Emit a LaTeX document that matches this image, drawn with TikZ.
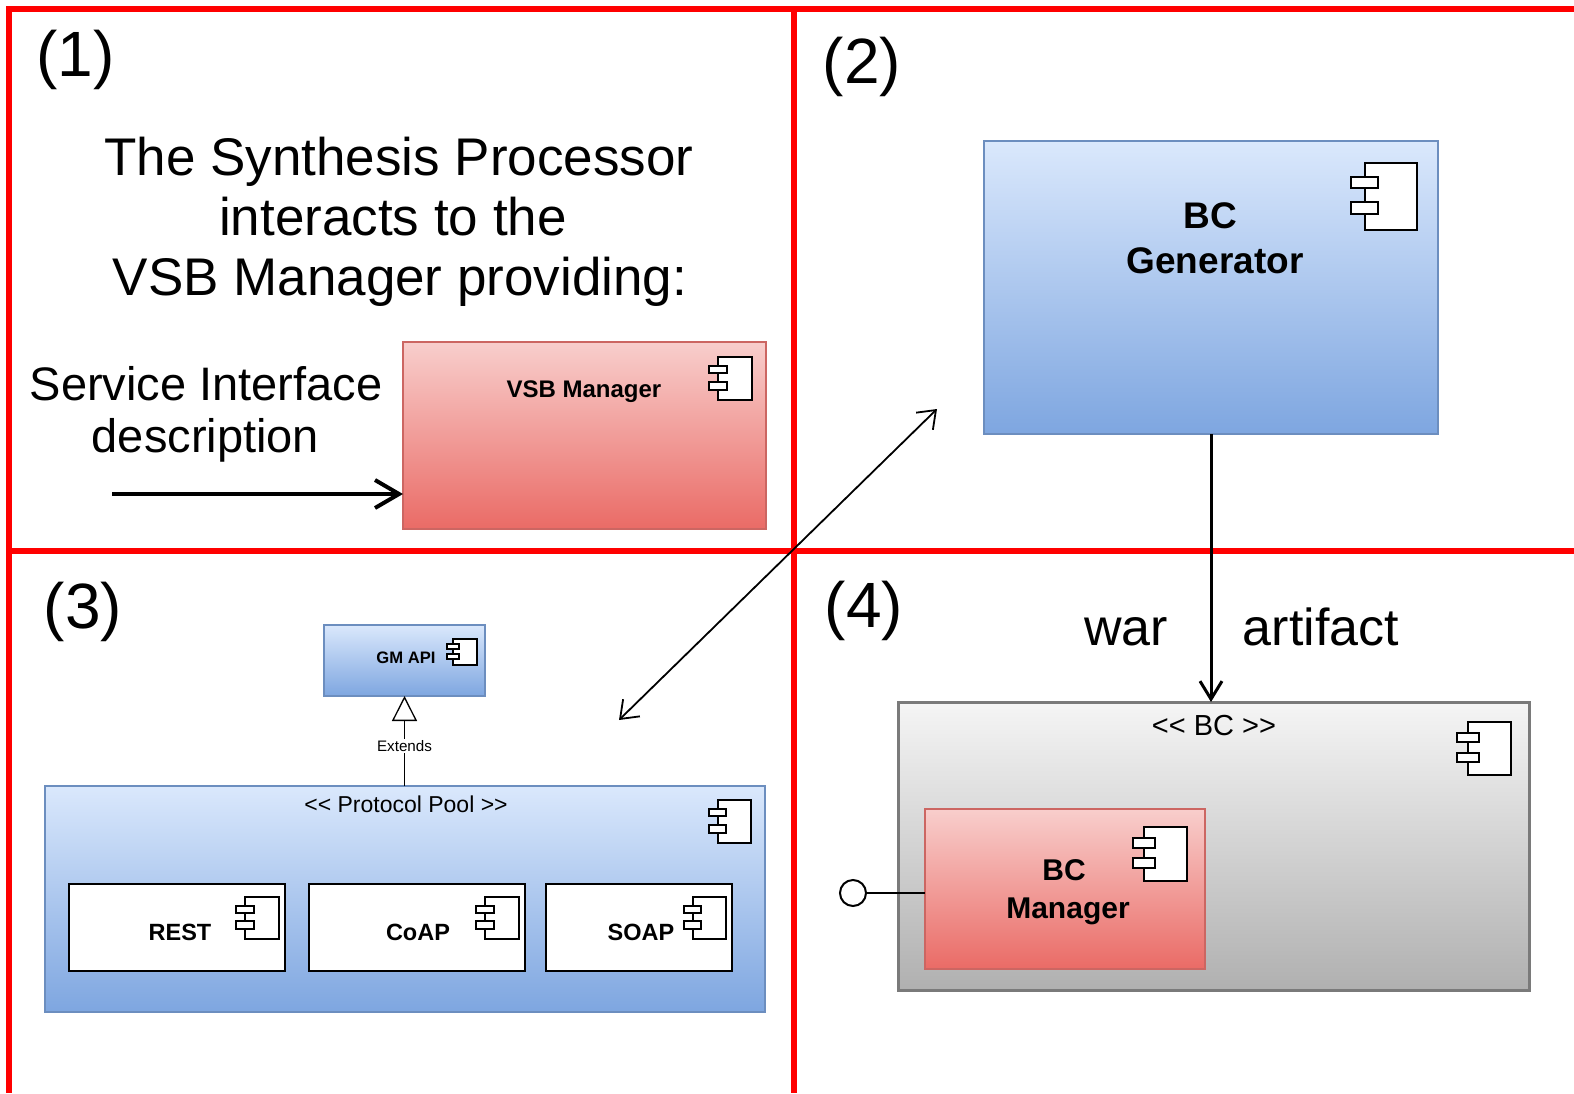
\documentclass[tikz,border=0pt]{standalone}
\usepackage{fontspec}
\setmainfont{Liberation Sans}[Ligatures=TeXOff]
\usetikzlibrary{arrows.meta}
\definecolor{redtop}{HTML}{F8CECC}
\definecolor{redbot}{HTML}{EA6B66}
\definecolor{redline}{HTML}{CC6662}
\definecolor{bluetop}{HTML}{DAE8FC}
\definecolor{bluebot}{HTML}{7EA6E0}
\definecolor{blueline}{HTML}{6C8EBF}
\definecolor{graytop}{HTML}{F5F5F5}
\definecolor{graybot}{HTML}{B0B0B0}
\definecolor{grayline}{HTML}{7A7A7A}
\definecolor{framered}{HTML}{FF0000}
\newcommand\cicon[4]{%
  \draw[iconline] ({#1+0.21*#3},#2) rectangle ({#1+#3},{#2+#4});
  \draw[iconline] (#1,{#2+0.21*#4}) rectangle ({#1+0.41*#3},{#2+0.38*#4});
  \draw[iconline] (#1,{#2+0.58*#4}) rectangle ({#1+0.41*#3},{#2+0.76*#4});
}
\tikzset{
  frameline/.style={draw=framered, line width=6pt},
  boxbase/.style={draw, inner sep=0pt, outer sep=0pt},
  redbox/.style={boxbase, draw=redline, line width=2pt, top color=redtop, bottom color=redbot},
  bluebox/.style={boxbase, draw=blueline, line width=2pt, top color=bluetop, bottom color=bluebot},
  graybox/.style={boxbase, draw=grayline, line width=3pt, top color=graytop, bottom color=graybot},
  whitebox/.style={boxbase, draw=black, line width=2.2pt, fill=white},
  iconline/.style={draw=black, line width=2pt, fill=white},
  num/.style={inner sep=0pt, font=\fontsize{64}{70}\selectfont},
  bigtxt/.style={inner sep=0pt, anchor=base, font=\fontsize{53}{60}\selectfont},
  midtxt/.style={inner sep=0pt, anchor=base, font=\fontsize{47}{52}\selectfont},
  wartxt/.style={inner sep=0pt, anchor=base, font=\fontsize{52}{60}\selectfont},
  blbl/.style={inner sep=0pt, anchor=base, font=\bfseries\fontsize{#1}{#1}\selectfont},
  nlbl/.style={inner sep=0pt, anchor=base, font=\fontsize{#1}{#1}\selectfont},
  thickarrow/.style={line width=4pt, -{Straight Barb[length=24pt,width=28pt]}},
  diagarrow/.style={line width=1.8pt, {Straight Barb[length=16pt,width=24pt]}-{Straight Barb[length=16pt,width=24pt]}},
  vertarrow/.style={line width=3pt, -{Straight Barb[length=18pt,width=22pt]}},
  genarrow/.style={line width=1.3pt, -{Triangle[open, length=25pt, width=25pt, fill=white]}},
}
\begin{document}
\begin{tikzpicture}[x=1pt,y=-1pt]
\useasboundingbox[fill=white] (0,0) rectangle (1574,1093);

% boxes
\node[redbox, minimum width=363pt, minimum height=187pt] (vsb) at (584.5,435.5) {};
\node[bluebox, minimum width=454pt, minimum height=293pt] (bcgen) at (1211,287.5) {};
\node[bluebox, minimum width=161pt, minimum height=71pt] (gmapi) at (404.5,660.5) {};
\node[bluebox, minimum width=720pt, minimum height=226pt] (pool) at (405,899) {};
\node[whitebox, minimum width=216pt, minimum height=87pt] (rest) at (177,927.5) {};
\node[whitebox, minimum width=216pt, minimum height=87pt] (coap) at (417,927.5) {};
\node[whitebox, minimum width=186pt, minimum height=87pt] (soap) at (639,927.5) {};
\node[graybox, minimum width=631pt, minimum height=288pt] (bc) at (1213.5,846) {};
\node[redbox, minimum width=280pt, minimum height=160pt] (bcman) at (1065,889) {};

% component icons
\cicon{709}{357}{43}{43}
\cicon{1351}{163}{66}{67}
\cicon{447}{639}{30}{26}
\cicon{709}{800}{42}{43}
\cicon{236}{897}{43}{42}
\cicon{476}{897}{43}{42}
\cicon{684}{897}{42}{42}
\cicon{1457}{722}{54}{53}
\cicon{1133}{827}{54}{54}

% frame lines
\draw[frameline] (6,9) -- (1574,9);
\draw[frameline] (9,6) -- (9,1093);
\draw[frameline] (794,6) -- (794,1093);
\draw[frameline] (6,551) -- (1574,551);

% labels
\node[num] (n1) at (75.5,60) {(1)};
\node[num] (n2) at (862,67) {(2)};
\node[num] (n3) at (83,612) {(3)};
\node[num] (n4) at (864,611) {(4)};

\node[bigtxt] (t1) at (399,175) {The Synthesis Processor};
\node[bigtxt] (t2) at (393,235) {interacts to the};
\node[bigtxt] (t3) at (400,295) {VSB Manager providing:};
\node[midtxt] (s1) at (206,400) {Service Interface};
\node[midtxt] (s2) at (205.5,452) {description};

\node[blbl=24] (vsblbl) at (584,397) {VSB Manager};
\node[blbl=37] (bcg1) at (1210,228) {BC};
\node[blbl=37] (bcg2) at (1215,273) {Generator};
\node[blbl=16.6] (gmlbl) at (406,663) {GM API};
\node[nlbl=23] (poollbl) at (406,812) {<< Protocol Pool >>};
\node[blbl=23.5] (restlbl) at (180,940) {REST};
\node[blbl=23.5] (coaplbl) at (418,940) {CoAP};
\node[blbl=23.5] (soaplbl) at (641,940) {SOAP};
\node[nlbl=29] (bclbl) at (1214,735) {<< BC >>};
\node[blbl=30] (bcm1) at (1064,880) {BC};
\node[blbl=30] (bcm2) at (1068,918) {Manager};
\node[wartxt] (war) at (1126,645) {war};
\node[wartxt] (art) at (1321,645) {artifact};

% connectors
\coordinate (sistart) at (112,494);
\draw[thickarrow] (sistart) -- (sistart -| vsb.west);

\coordinate (dlow) at (619,720);
\coordinate (dhigh) at (937,409);
\draw[diagarrow] (dlow) -- (dhigh);

\draw[vertarrow] (bcgen.south) -- (bcgen.south |- bc.north);

\draw[genarrow] (gmapi.south |- pool.north) -- node[pos=0.44, fill=white, inner sep=1.5pt, font=\fontsize{15.2}{16}\selectfont] (ext) {Extends} (gmapi.south);

\node[circle, draw=black, line width=2pt, fill=white, minimum size=26pt, inner sep=0pt] (lol) at (853,893) {};
\draw[line width=2pt] (lol.east) -- (lol.east -| bcman.west);
\end{tikzpicture}
\end{document}
